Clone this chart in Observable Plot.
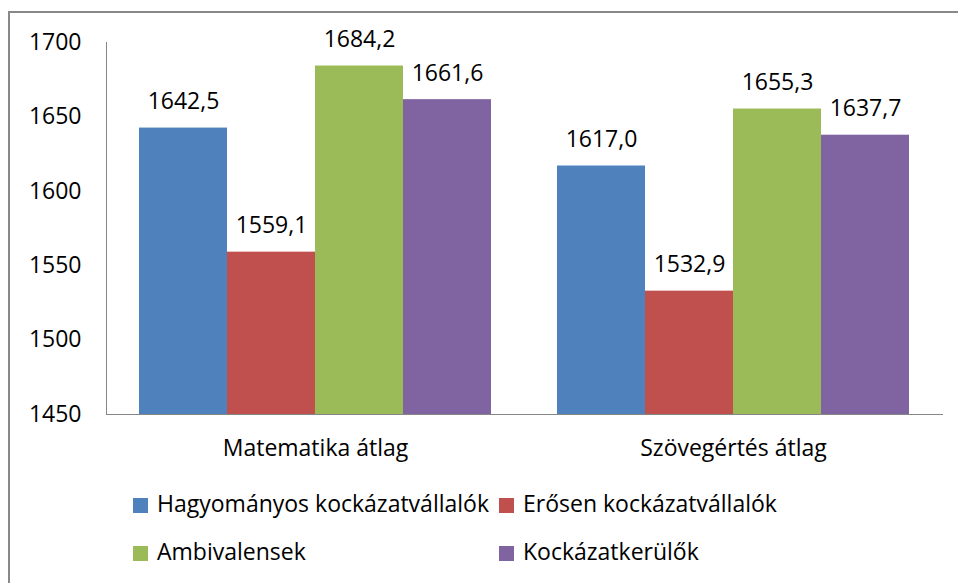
<!DOCTYPE html>
<html>
<head>
<meta charset="utf-8">
<script src="https://cdn.jsdelivr.net/npm/d3@7"></script>
<script src="https://cdn.jsdelivr.net/npm/@observablehq/plot@0.6"></script>
<style>
  html, body { margin: 0; padding: 0; background: #fff; }
  body { width: 958px; height: 583px; overflow: hidden; position: relative; font-family: "Open Sans", sans-serif; }
  #border { position: absolute; left: 8px; top: 11px; width: 1000px; height: 700px; border-left: 2px solid #898989; border-top: 2px solid #898989; }
  #chart { position: absolute; left: 0; top: 0; }
  #legend { position: absolute; left: 133px; top: 479px; display: grid; grid-template-columns: 366px auto; font-size: 23px; line-height: 48px; color: #000; }
  .item { white-space: nowrap; }
  .sw { display: inline-block; width: 15px; height: 15px; margin-right: 9px; vertical-align: -1px; }
</style>
</head>
<body>
<div id="border"></div>
<div id="chart"></div>
<div id="legend"></div>
<script>
const categories = ["Matematika átlag", "Szövegértés átlag"];
const series = ["Hagyományos kockázatvállalók", "Erősen kockázatvállalók", "Ambivalensek", "Kockázatkerülők"];
const mathValues = [1642.5, 1559.1, 1684.2, 1661.6];
const readingValues = [1617.0, 1532.9, 1655.3, 1637.7];
const yTicks = [1450, 1500, 1550, 1600, 1650, 1700];
const colors = ["#4F81BD", "#C0504D", "#9BBB59", "#8064A2"];

const data = [];
series.forEach((s, i) => data.push({cat: categories[0], series: s, value: mathValues[i]}));
series.forEach((s, i) => data.push({cat: categories[1], series: s, value: readingValues[i]}));

const fmt = v => v.toFixed(1).replace(".", ",");

const chart = Plot.plot({
  width: 958,
  height: 475,
  marginTop: 42,
  marginLeft: 106,
  marginRight: 16,
  marginBottom: 61,
  style: {fontFamily: "'Open Sans', sans-serif", fontSize: "23px", color: "#000", background: "transparent", overflow: "visible"},
  fx: {domain: categories, padding: 0, label: null},
  x: {domain: series, paddingInner: 0, paddingOuter: 0.375, axis: null},
  y: {domain: [1450, 1700], label: null},
  color: {domain: series, range: colors},
  marks: [
    Plot.barY(data, {fx: "cat", x: "series", y1: 1450, y2: "value", fill: "series"}),
    Plot.text(data, {fx: "cat", x: "series", y: "value", text: d => fmt(d.value), lineAnchor: "bottom", dy: -19, fill: "#000", fontSize: 23}),
    Plot.frame({anchor: "bottom", stroke: "#868686", strokeWidth: 1}),
    Plot.frame({anchor: "left", stroke: "#868686", strokeWidth: 1, facetAnchor: "left"}),
    Plot.axisY({ticks: yTicks, tickFormat: d => String(d), tickSize: 0, tickPadding: 25, label: null, fontSize: 23, fill: "#000"}),
    Plot.axisFx({anchor: "bottom", tickSize: 0, tickPadding: 25, label: null, fontSize: 23, fill: "#000"})
  ]
});
document.getElementById("chart").appendChild(chart);

const legend = document.getElementById("legend");
series.forEach((s, i) => {
  const item = document.createElement("div");
  item.className = "item";
  const sw = document.createElement("span");
  sw.className = "sw";
  sw.style.background = colors[i];
  item.appendChild(sw);
  item.appendChild(document.createTextNode(s));
  legend.appendChild(item);
});
</script>
</body>
</html>
